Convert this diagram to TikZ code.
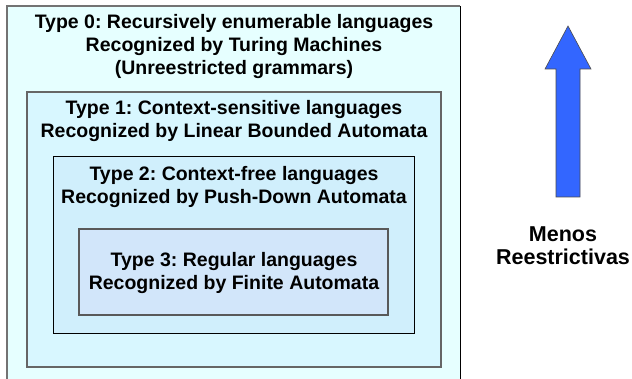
\documentclass[tikz,border=0pt]{standalone}
\usepackage{fontspec}
\setmainfont{Liberation Sans}
\definecolor{fill0}{RGB}{230,255,255}
\definecolor{fill1}{RGB}{216,247,255}
\definecolor{fill2}{RGB}{208,239,252}
\definecolor{fill3}{RGB}{210,230,250}
\definecolor{arrowblue}{RGB}{51,102,255}
\tikzset{
  lab/.style={align=center, font=\frenchspacing\bfseries\fontsize{19.5}{23}\selectfont, inner sep=0pt, text=black},
}
\begin{document}
\begin{tikzpicture}[x=1pt,y=-1pt]
\useasboundingbox (0,0) rectangle (632,379);
\fill[white] (0,0) rectangle (632,379);
% outer box
\fill[fill0] (7,6) rectangle (460,379);
\draw[gray!90!black, line width=1.6pt] (7,379) -- (7,6) -- (460,6);
\draw[black, line width=1pt] (460,6) -- (460,379);
% box 1
\draw[fill=fill1, draw=black!60, line width=1.2pt] (27,92) rectangle (441,367);
% box 2
\draw[fill=fill2, draw=black, line width=1pt] (53,157) rectangle (414,334);
% box 3
\draw[fill=fill3, draw=black!65, line width=1.2pt] (79,229) rectangle (388,315);
% texts
\node[lab] (t0) at (234,47) {Type 0: Recursively enumerable languages\\Recognized by Turing Machines\\(Unreestricted grammars)};
\node[lab] (t1) at (234,121) {Type 1: Context-sensitive languages\\Recognized by Linear Bounded Automata};
\node[lab] (t2) at (234,187) {Type 2: Context-free languages\\Recognized by Push-Down Automata};
\node[lab] (t3) at (234,273) {Type 3: Regular languages\\Recognized by Finite Automata};
% arrow
\draw[fill=arrowblue, draw=black!70, line width=0.6pt] (556,197) -- (556,69) -- (545,69) -- (568,26) -- (591,69) -- (580,69) -- (580,197) -- cycle;
\node[lab, font=\bfseries\fontsize{21.5}{23}\selectfont] (m) at (563,246) {Menos\\Reestrictivas};
\end{tikzpicture}
\end{document}
